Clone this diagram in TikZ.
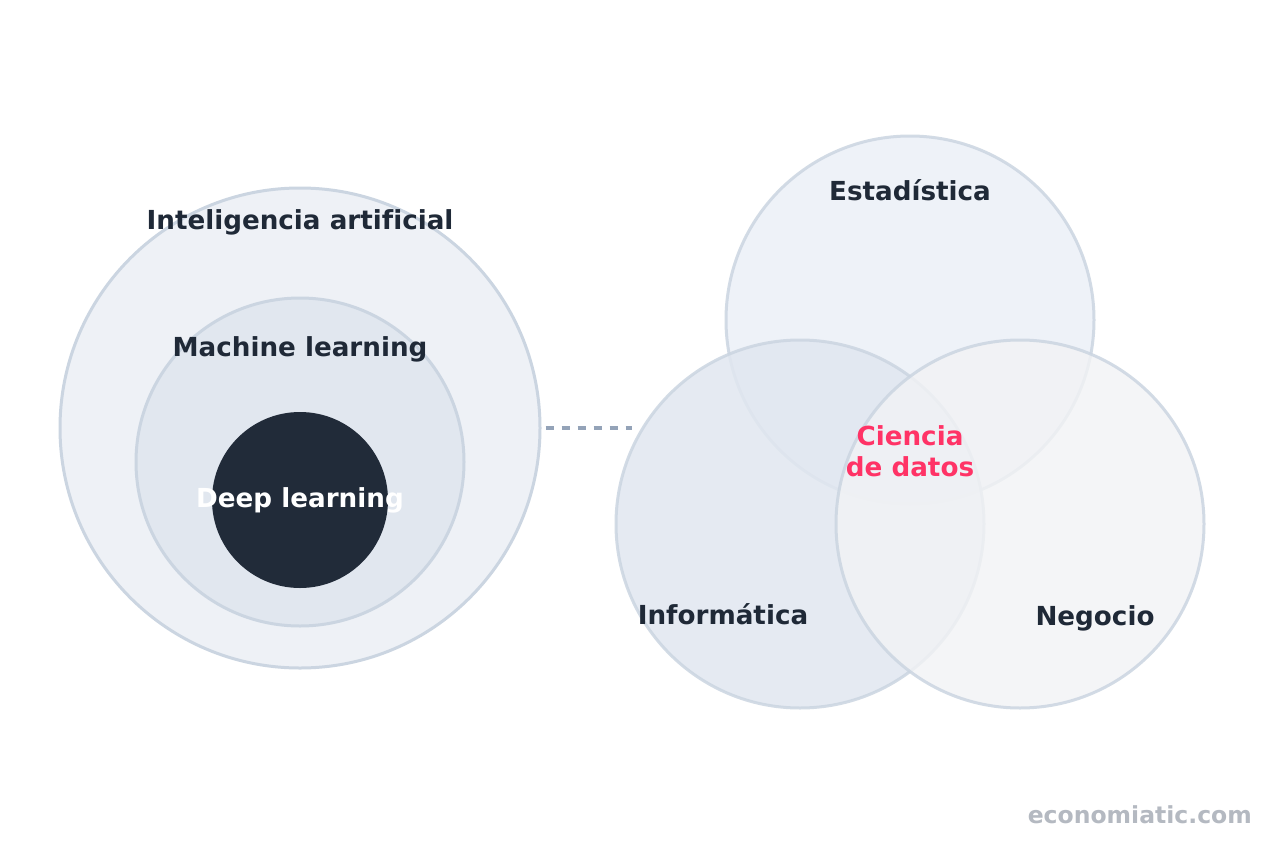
\documentclass[tikz,border=0pt]{standalone}
\usepackage{fontspec}
\setmainfont[Ligatures=NoCommon]{DejaVu Sans}
\begin{document}
\begin{tikzpicture}[x=1pt,y=-1pt,
  lbl/.style={font=\fontsize{26.2}{30}\bfseries\selectfont, text=labeldark, inner sep=0pt, anchor=base},
  ring/.style={circle, draw=ringline, line width=3pt, inner sep=0pt},
  venn/.style={circle, draw=ringline, draw opacity=0.85, line width=3pt, inner sep=0pt, minimum size=368pt}]
\definecolor{labeldark}{HTML}{1F2937}
\definecolor{ringline}{HTML}{CBD5E1}
\definecolor{aifill}{HTML}{EEF1F6}
\definecolor{mlfill}{HTML}{E1E7EF}
\definecolor{dlfill}{HTML}{212B39}
\definecolor{estfill}{HTML}{EEF2F8}
\definecolor{inffill}{HTML}{E1E7F0}
\definecolor{negfill}{HTML}{F2F3F5}
\definecolor{accent}{HTML}{FF3366}
\definecolor{dashgray}{HTML}{94A3B8}
\definecolor{markgray}{HTML}{B4B9C1}
\useasboundingbox (0,0) rectangle (1280,854);
\fill[white] (0,0) rectangle (1280,854);
% left nested circles
\node[ring, fill=aifill, minimum size=480pt] (ai) at (300,428) {};
\node[ring, fill=mlfill, minimum size=328pt] (ml) at (300,462) {};
\node[circle, fill=dlfill, inner sep=0pt, minimum size=176pt] (dl) at (300,500) {};
\node[lbl] (tai) at (300,229.5) {Inteligencia artificial};
\node[lbl] (tml) at (300,356) {Machine learning};
\node[lbl, text=white] (tdl) at (300,507.5) {Deep learning};
% dashed connector
\coordinate (dend) at (632,428);
\draw[dashgray, line width=3.5pt, dash pattern=on 8pt off 8pt, shorten <=4pt] (ai.east) -- (dend);
% venn diagram
\node[venn, fill=estfill, fill opacity=0.95] (est) at (910,320) {};
\node[venn, fill=inffill, fill opacity=0.85] (inf) at (800,524) {};
\node[venn, fill=negfill, fill opacity=0.8] (neg) at (1020,524) {};
\node[lbl] (test) at (910,200.5) {Estadística};
\node[lbl] (tinf) at (723,624) {Informática};
\node[lbl] (tneg) at (1095,625) {Negocio};
\node[lbl, text=accent] (tcd1) at (910,445) {Ciencia};
\node[lbl, text=accent] (tcd2) at (910,476) {de datos};
% watermark
\node[font=\fontsize{23.5}{28}\bfseries\selectfont, text=markgray, inner sep=0pt, anchor=base east] (wm) at (1252,823) {economiatic.com};
\end{tikzpicture}
\end{document}
